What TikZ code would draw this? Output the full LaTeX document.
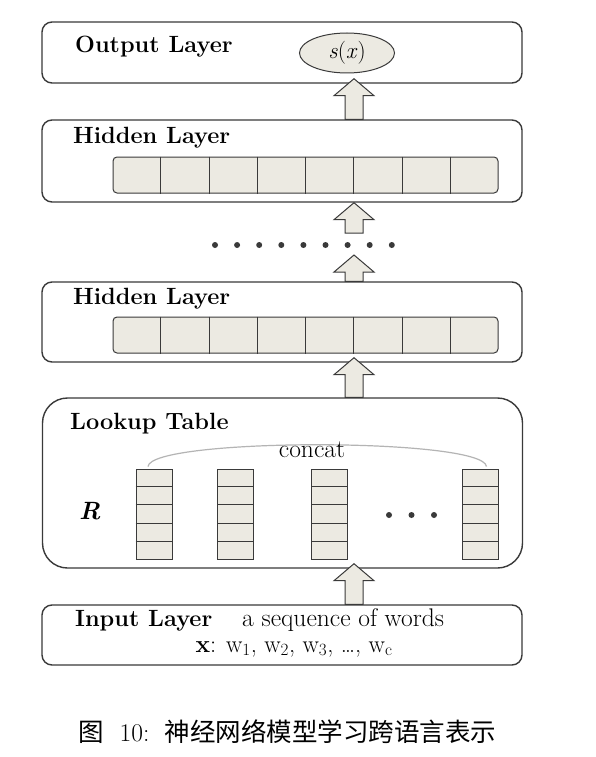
\documentclass[tikz,border=0pt]{standalone}
\usepackage{fontspec}
\newfontfamily\cjk{Noto Sans CJK SC}
\usetikzlibrary{positioning,shapes.geometric,calc}
\definecolor{tinta}{HTML}{3a3a3a}
\definecolor{celula}{HTML}{ECEAE2}
\definecolor{arco}{HTML}{B4B4B4}
% seta larga (bloco) da base #1 ate a ponta #2
\newcommand{\blocoseta}[2]{%
  \draw[seta] let \p1=(#1), \p2=(#2) in
    (\x1-9pt,\y1) -- (\x1-9pt,\y2-17pt) -- (\x1-20pt,\y2-17pt) -- (\x1,\y2)
    -- (\x1+20pt,\y2-17pt) -- (\x1+9pt,\y2-17pt) -- (\x1+9pt,\y1) -- cycle;}

\begin{document}
\begin{tikzpicture}[x=1pt, y=-1pt,
  camada/.style={draw=tinta, line width=1.4pt, rounded corners=10pt, minimum width=480pt, inner sep=0pt},
  rotulo/.style={font=\fontsize{23.5}{27}\selectfont\bfseries, anchor=base west, inner sep=0pt},
  texto/.style={font=\fontsize{25.5}{29}\selectfont, inner sep=0pt},
  vetor/.style={draw=tinta, fill=celula, line width=1pt, rounded corners=4pt, minimum width=385pt, minimum height=36pt, inner sep=0pt},
  coluna/.style={draw=tinta, fill=celula, line width=1pt, minimum width=36pt, minimum height=90pt, inner sep=0pt},
  divisao/.style={draw=tinta, line width=1pt},
  seta/.style={draw=tinta, fill=celula, line width=1pt, line join=miter},
  ponto/.style={fill=tinta}]
\path[use as bounding box, fill=white] (0,0) rectangle (595,757);
% ---- camadas
\node[camada, minimum height=61pt] (saida) at (282,52.5) {};
\node[camada, minimum height=82pt] (oculta1) at (282,161) {};
\node[camada, minimum height=80pt] (oculta2) at (282,322) {};
\node[camada, minimum height=170pt, rounded corners=25pt] (tabela) at (282.5,483) {};
\node[camada, minimum height=60pt] (entrada) at (282,635) {};
% ---- rotulos
\node[rotulo] (lsaida) at (75,53) {Output Layer};
\node[rotulo] (loculta1) at (73,143) {Hidden Layer};
\node[rotulo] (loculta2) at (73,304) {Hidden Layer};
\node[rotulo] (ltabela) at (70,429) {Lookup Table};
\node[rotulo] (lentrada) at (75,626) {Input Layer};
\node[texto, anchor=base west] (seq) at (242,626) {a sequence of words};
\node[font=\fontsize{24.5}{28}\selectfont, anchor=base, inner sep=0pt] (palavras) at (294,652)
  {\textbf{x}: w\textsubscript{1}, w\textsubscript{2}, w\textsubscript{3}, \dots, w\textsubscript{c}};
% ---- saida s(x)
\node[ellipse, draw=tinta, fill=celula, line width=1pt, minimum width=95pt, minimum height=40pt,
  inner sep=0pt, font=\fontsize{23}{27}\selectfont] (sx) at (347,53) {\textit{s}(\textit{x})};
% ---- vetores das camadas ocultas
\node[vetor] (vet1) at (305.5,175) {};
\node[vetor] (vet2) at (305.5,335) {};
\foreach \v in {vet1,vet2}
  \foreach \i in {1,...,7}
    \draw[divisao] ($(\v.north west)!\i/8!(\v.north east)$) -- ($(\v.south west)!\i/8!(\v.south east)$);
% ---- tabela de consulta
\node[font=\fontsize{25}{29}\selectfont\bfseries\itshape, anchor=base west, inner sep=0pt] (R) at (79,519) {R};
\foreach \n/\cx in {1/154, 2/235.5, 3/329.5, 4/480.5} {
  \node[coluna] (col\n) at (\cx,514) {};
  \foreach \i in {1,...,4}
    \draw[divisao] ($(col\n.north west)!\i/5!(col\n.south west)$) -- ($(col\n.north east)!\i/5!(col\n.south east)$);
}
\foreach \x in {389,411.5,434} \fill[ponto] (\x,515) circle (3pt);
\draw[arco, line width=1.2pt] ([xshift=-6pt,yshift=2pt]col1.north) .. controls +(3,-29) and +(-3,-29) .. ([xshift=6pt,yshift=2pt]col4.north);
\node[texto, anchor=base] (concat) at (312,457) {concat};
% ---- reticencias entre as camadas ocultas
\coordinate (eixo) at (354,0);
\coordinate (pontos) at (354,245);
\foreach \i in {0,...,8} \fill[ponto] (215+\i*22.1,245) circle (3pt);
% ---- setas
\blocoseta{eixo |- oculta1.north}{[yshift=5pt]eixo |- saida.south}
\blocoseta{[yshift=12pt]pontos}{eixo |- oculta1.south}
\blocoseta{eixo |- oculta2.north}{[yshift=-10pt]pontos}
\blocoseta{eixo |- tabela.north}{[yshift=5pt]eixo |- oculta2.south}
\blocoseta{eixo |- entrada.north}{[yshift=5pt]eixo |- tabela.south}
% ---- legenda
\node[font=\fontsize{25.5}{29}\selectfont, inner sep=0pt] (legenda) at (287.5,732)
  {{\cjk 图}\hspace{0.6em}10:\hspace{0.6em}{\cjk 神经网络模型学习跨语言表示}};
\end{tikzpicture}
\end{document}
